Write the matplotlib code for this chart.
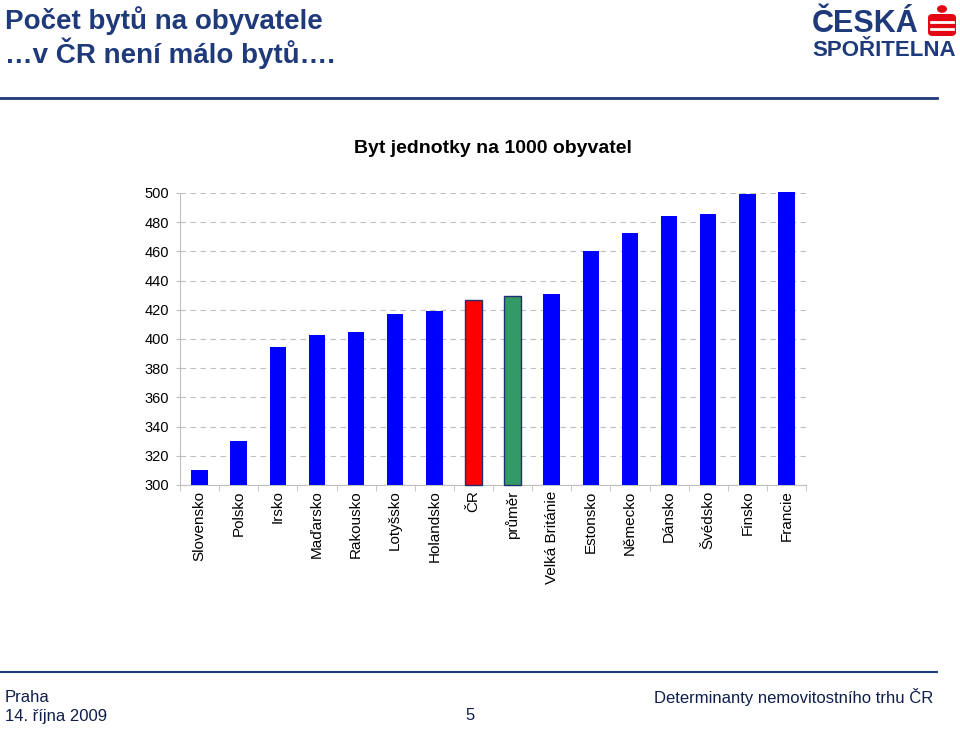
import matplotlib.pyplot as plt
from matplotlib.patches import FancyBboxPatch, Circle
from matplotlib.lines import Line2D
import numpy as np

plt.rcParams['font.family'] = ['Liberation Sans', 'DejaVu Sans']

# data
zeme = ['Slovensko', 'Polsko', 'Irsko', 'Maďarsko', 'Rakousko', 'Lotyšsko',
        'Holandsko', 'ČR', 'průměr', 'Velká Británie', 'Estonsko', 'Německo',
        'Dánsko', 'Švédsko', 'Finsko', 'Francie']
byty = [310, 330, 394.5, 402.5, 404.5, 417, 419, 427, 429.5, 430.5,
        460.5, 472.5, 484.5, 485.5, 499, 501]
barvy = ['#0000FF'] * len(zeme)
barvy[7] = '#FF0000'
barvy[8] = '#339966'
yticky = [300, 320, 340, 360, 380, 400, 420, 440, 460, 480, 500]
zaklad = 300

navy = '#1F3A7A'

fig = plt.figure(figsize=(9.6, 7.32), dpi=100)

# hlavicka
fig.text(5/960, 1 - 21/732, 'Počet bytů na obyvatele', fontsize=20, fontweight='bold',
         color=navy, va='center', ha='left')
fig.text(5/960, 1 - 53/732, '…v ČR není málo bytů….', fontsize=20, fontweight='bold',
         color=navy, va='center', ha='left')
fig.add_artist(Line2D([0, 937/960], [1 - 98/732] * 2, color=navy, lw=2))

# logo
fig.text(812/960, 1 - 24/732, 'ČESKÁ', fontsize=22, fontweight='bold', color=navy,
         va='center', ha='left')
fig.text(812/960, 1 - 50/732, 'SPOŘITELNA', fontsize=16, fontweight='bold', color=navy,
         va='center', ha='left')
fig.add_artist(FancyBboxPatch((928/960, 1 - 36/732), 28/960, 22/732,
                              boxstyle='round,pad=0,rounding_size=0.005',
                              transform=fig.transFigure, fc='#E30613', ec='none'))
fig.add_artist(Circle((942/960, 1 - 9/732), 5/960, transform=fig.transFigure,
                      fc='#E30613', ec='none'))
fig.add_artist(Line2D([931/960, 953/960], [1 - 22/732] * 2, color='white', lw=2))
fig.add_artist(Line2D([931/960, 953/960], [1 - 29/732] * 2, color='white', lw=2))

# graf
ax = fig.add_axes([180/960, 1 - 485/732, 626/960, 292/732])
x = np.arange(len(zeme))
vysky = [b - zaklad for b in byty]
bars = ax.bar(x, vysky, bottom=zaklad, width=0.42, color=barvy, zorder=3, clip_on=False)
for i in (7, 8):
    bars[i].set_edgecolor('#1F2F6F')
    bars[i].set_linewidth(1)

ax.set_ylim(300, 500)
ax.set_xlim(-0.5, len(zeme) - 0.5)
ax.set_yticks(yticky)
ax.yaxis.grid(True, linestyle=(0, (5, 4)), color='#BFBFBF', lw=0.8)
ax.set_xticks(x)
ax.set_xticklabels(zeme, rotation=90, fontsize=11, va='top')
ax.set_xticks(np.arange(len(zeme) + 1) - 0.5, minor=True)
ax.tick_params(axis='x', which='major', length=0, pad=4)
ax.tick_params(axis='x', which='minor', length=4, color='#BFBFBF')
ax.tick_params(axis='y', length=3, color='#BFBFBF', labelsize=10.5, pad=5)
for s in ['top', 'right']:
    ax.spines[s].set_visible(False)
ax.spines['left'].set_color('#BFBFBF')
ax.spines['bottom'].set_color('#BFBFBF')
ax.set_title('Byt jednotky na 1000 obyvatel', fontsize=14, fontweight='bold', pad=29)

# paticka
fig.add_artist(Line2D([0, 937/960], [1 - 672/732] * 2, color=navy, lw=1.5))
fig.text(5/960, 1 - 697/732, 'Praha', fontsize=12, color='#0F1E4A', va='center')
fig.text(5/960, 1 - 717/732, '14. října 2009', fontsize=12, color='#0F1E4A', va='center')
fig.text(470/960, 1 - 715/732, '5', fontsize=12, color='#0F1E4A', va='center', ha='center')
fig.text(933/960, 1 - 697/732, 'Determinanty nemovitostního trhu ČR', fontsize=12,
         color='#0F1E4A', va='center', ha='right')

fig.savefig('out.png', dpi=100)
